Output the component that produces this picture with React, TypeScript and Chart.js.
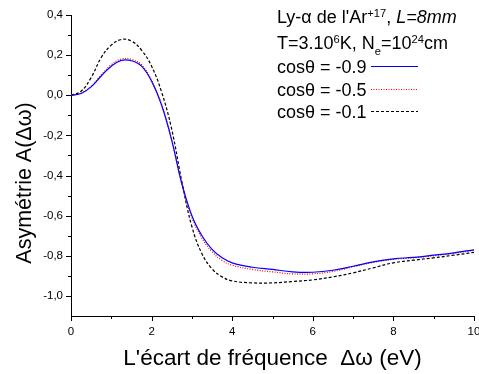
import React, { useEffect, useRef } from 'react';
import { Chart, registerables } from 'chart.js';
Chart.register(...registerables);

const xValues = [0, 0.25, 0.5, 0.75, 1, 1.25, 1.5, 1.75, 2, 2.25, 2.5, 2.75, 3, 3.25, 3.5, 3.75, 4, 4.5, 5, 5.5, 6, 6.5, 7, 7.5, 8, 8.5, 9, 9.5, 10];
const seriesCos09 = [0, 0.009, 0.042, 0.096, 0.145, 0.174, 0.172, 0.145, 0.07, -0.05, -0.225, -0.44, -0.6, -0.7, -0.768, -0.81, -0.835, -0.857, -0.868, -0.88, -0.882, -0.872, -0.852, -0.83, -0.815, -0.808, -0.797, -0.785, -0.77];
const seriesCos05 = [0, 0.01, 0.045, 0.102, 0.152, 0.181, 0.179, 0.152, 0.075, -0.048, -0.225, -0.445, -0.61, -0.712, -0.78, -0.823, -0.847, -0.868, -0.88, -0.89, -0.89, -0.878, -0.855, -0.833, -0.818, -0.81, -0.8, -0.788, -0.773];
const seriesCos01 = [0, 0.02, 0.088, 0.188, 0.25, 0.278, 0.27, 0.225, 0.145, 0.015, -0.17, -0.43, -0.655, -0.79, -0.865, -0.905, -0.925, -0.935, -0.935, -0.928, -0.92, -0.905, -0.885, -0.86, -0.835, -0.822, -0.81, -0.797, -0.783];
const yTickValues = [-1.0, -0.8, -0.6, -0.4, -0.2, 0.0, 0.2, 0.4];
const xTickValues = [0, 2, 4, 6, 8, 10];
const legendLabels = ['cosθ = -0.9', 'cosθ = -0.5', 'cosθ = -0.1'];
const seriesColors = ['#0000ff', '#ff0000', '#000000'];
const seriesDashes: number[][] = [[], [1, 1.5], [3, 2]];

const FONT = '"Liberation Sans", Arial, Helvetica, sans-serif';

type Seg = { t: string; k?: 'sup' | 'sub' | 'it' };

function drawRich(ctx: CanvasRenderingContext2D, segs: Seg[], x: number, y: number, size: number) {
  let cx = x;
  for (const s of segs) {
    let fs = size;
    let dy = 0;
    let style = '';
    if (s.k === 'sup') { fs = size * 0.62; dy = -size * 0.36; }
    if (s.k === 'sub') { fs = size * 0.62; dy = size * 0.34; }
    if (s.k === 'it') style = 'italic ';
    ctx.font = `${style}${fs}px ${FONT}`;
    ctx.fillText(s.t, cx, y + dy);
    cx += ctx.measureText(s.t).width;
  }
}

const decorPlugin = {
  id: 'decor',
  afterDraw(chart: any) {
    const ctx: CanvasRenderingContext2D = chart.ctx;
    const xs = chart.scales.x;
    const ys = chart.scales.y;
    const area = chart.chartArea;
    ctx.save();
    ctx.strokeStyle = '#000';
    ctx.lineWidth = 1;
    for (let i = -10; i <= 4; i++) {
      const v = i / 10;
      const py = Math.round(ys.getPixelForValue(v)) + 0.5;
      const len = i % 2 === 0 ? 5 : 3;
      ctx.beginPath();
      ctx.moveTo(area.left - len, py);
      ctx.lineTo(area.left, py);
      ctx.stroke();
    }
    for (let i = 0; i <= 10; i++) {
      const px = Math.round(xs.getPixelForValue(i)) + 0.5;
      const len = i % 2 === 0 ? 5 : 3;
      ctx.beginPath();
      ctx.moveTo(px, area.bottom);
      ctx.lineTo(px, area.bottom + len);
      ctx.stroke();
    }
    ctx.fillStyle = '#000';
    ctx.font = `22.5px ${FONT}`;
    ctx.textAlign = 'center';
    ctx.textBaseline = 'alphabetic';
    ctx.fillText("L'écart de fréquence  Δω (eV)", (area.left + area.right) / 2, 365);
    ctx.save();
    ctx.font = `21.5px ${FONT}`;
    ctx.translate(31, 183);
    ctx.rotate(-Math.PI / 2);
    ctx.fillText('Asymétrie A(Δω)', 0, 0);
    ctx.restore();
    ctx.textAlign = 'left';
    const tx = 277;
    const fs = 18;
    drawRich(ctx, [{ t: "Ly-α de l'Ar" }, { t: '+17', k: 'sup' }, { t: ', ' }, { t: 'L=8mm', k: 'it' }], tx, 23, fs);
    drawRich(ctx, [{ t: 'T=3.10' }, { t: '6', k: 'sup' }, { t: 'K, N' }, { t: 'e', k: 'sub' }, { t: '=10' }, { t: '24', k: 'sup' }, { t: 'cm' }], tx, 49, fs);
    const baselines = [73, 96, 118];
    const lineYs = [66.5, 89.5, 111.5];
    legendLabels.forEach((lab, i) => {
      ctx.font = `${fs}px ${FONT}`;
      ctx.fillStyle = '#000';
      ctx.fillText(lab, tx, baselines[i]);
      ctx.strokeStyle = seriesColors[i];
      ctx.setLineDash(seriesDashes[i]);
      ctx.lineWidth = 1.2;
      ctx.beginPath();
      ctx.moveTo(371, lineYs[i]);
      ctx.lineTo(418, lineYs[i]);
      ctx.stroke();
    });
    ctx.setLineDash([]);
    ctx.restore();
  },
};

export default function App() {
  const ref = useRef<HTMLCanvasElement>(null);
  useEffect(() => {
    if (!ref.current) return;
    const mk = (ys: number[]) => xValues.map((x, i) => ({ x, y: ys[i] }));
    const allSeries = [seriesCos09, seriesCos05, seriesCos01];
    const chart = new Chart(ref.current, {
      type: 'line',
      data: {
        datasets: allSeries.map((s, i) => ({
          label: legendLabels[i],
          data: mk(s),
          borderColor: seriesColors[i],
          borderWidth: 1.2,
          borderDash: seriesDashes[i],
          pointRadius: 0,
          fill: false,
          tension: 0.4,
        })),
      },
      options: {
        animation: false,
        responsive: false,
        devicePixelRatio: 1,
        layout: { padding: { top: 15, right: 5, left: 0, bottom: 0 } },
        plugins: { legend: { display: false }, tooltip: { enabled: false } },
        scales: {
          x: {
            type: 'linear',
            min: 0,
            max: 10,
            afterFit: (s: any) => { s.height = 58; s.paddingLeft = 0; s.paddingRight = 0; },
            afterBuildTicks: (s: any) => { s.ticks = xTickValues.map((v) => ({ value: v })); },
            grid: { display: false, drawTicks: false },
            border: { display: true, color: '#000', width: 1 },
            ticks: { color: '#000', font: { family: FONT, size: 11.5 }, padding: 9, maxRotation: 0, callback: (v: any) => String(v) },
          },
          y: {
            type: 'linear',
            min: -1.1,
            max: 0.4,
            afterFit: (s: any) => { s.width = 71; s.paddingTop = 0; s.paddingBottom = 0; },
            afterBuildTicks: (s: any) => { s.ticks = yTickValues.map((v) => ({ value: v })); },
            grid: { display: false, drawTicks: false },
            border: { display: true, color: '#000', width: 1 },
            ticks: { color: '#000', font: { family: FONT, size: 11.5 }, padding: 8, callback: (v: any) => Number(v).toFixed(1).replace('.', ',') },
          },
        },
      },
      plugins: [decorPlugin],
    } as any);
    return () => chart.destroy();
  }, []);
  return (
    <div style={{ position: 'fixed', left: 0, top: 0, width: 479, height: 374, background: '#fff' }}>
      <canvas ref={ref} width={479} height={374} style={{ display: 'block' }} />
    </div>
  );
}
